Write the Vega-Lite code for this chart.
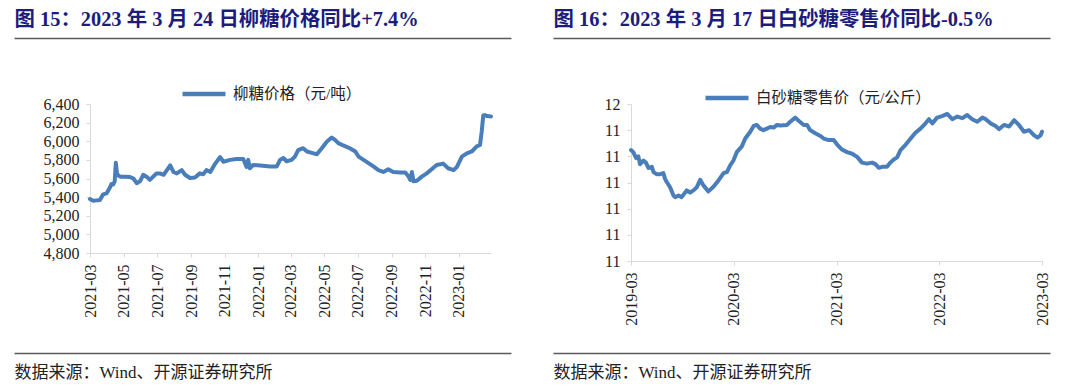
{
  "$schema": "https://vega.github.io/schema/vega-lite/v6.json",
  "autosize": {"type": "pad"},
  "padding": {"left": 14, "top": 9, "right": 30, "bottom": 5},
  "background": "white",
  "config": {
    "view": {"stroke": null},
    "font": "Liberation Serif, Noto Sans CJK SC",
    "axis": {"labelFont": "Liberation Serif", "titleFont": "Liberation Serif, Noto Sans CJK SC"},
    "legend": {"labelFont": "Liberation Serif, Noto Sans CJK SC"}
  },
  "datasets": {
    "liutang": [
      {"d": "2021-03-24", "v": 5380}, {"d": "2021-03-30", "v": 5360}, {"d": "2021-04-05", "v": 5365}, {"d": "2021-04-11", "v": 5370},
      {"d": "2021-04-14", "v": 5400}, {"d": "2021-04-17", "v": 5430}, {"d": "2021-04-23", "v": 5440}, {"d": "2021-04-29", "v": 5500},
      {"d": "2021-05-02", "v": 5540}, {"d": "2021-05-05", "v": 5535}, {"d": "2021-05-08", "v": 5570}, {"d": "2021-05-10", "v": 5770},
      {"d": "2021-05-12", "v": 5660}, {"d": "2021-05-14", "v": 5635}, {"d": "2021-05-18", "v": 5620}, {"d": "2021-05-27", "v": 5620},
      {"d": "2021-06-05", "v": 5615}, {"d": "2021-06-11", "v": 5600}, {"d": "2021-06-17", "v": 5550}, {"d": "2021-06-23", "v": 5570},
      {"d": "2021-06-29", "v": 5640}, {"d": "2021-07-05", "v": 5620}, {"d": "2021-07-11", "v": 5585}, {"d": "2021-07-17", "v": 5620},
      {"d": "2021-07-23", "v": 5655}, {"d": "2021-07-29", "v": 5655}, {"d": "2021-08-05", "v": 5640}, {"d": "2021-08-11", "v": 5690},
      {"d": "2021-08-17", "v": 5740}, {"d": "2021-08-23", "v": 5670}, {"d": "2021-08-29", "v": 5655}, {"d": "2021-09-07", "v": 5690},
      {"d": "2021-09-13", "v": 5640}, {"d": "2021-09-22", "v": 5605}, {"d": "2021-10-01", "v": 5610}, {"d": "2021-10-10", "v": 5655},
      {"d": "2021-10-16", "v": 5645}, {"d": "2021-10-22", "v": 5690}, {"d": "2021-10-29", "v": 5670}, {"d": "2021-11-07", "v": 5760},
      {"d": "2021-11-16", "v": 5830}, {"d": "2021-11-22", "v": 5780}, {"d": "2021-12-04", "v": 5800}, {"d": "2021-12-16", "v": 5810},
      {"d": "2021-12-28", "v": 5810}, {"d": "2022-01-03", "v": 5725}, {"d": "2022-01-06", "v": 5800}, {"d": "2022-01-09", "v": 5710},
      {"d": "2022-01-15", "v": 5745}, {"d": "2022-01-28", "v": 5740}, {"d": "2022-02-15", "v": 5730}, {"d": "2022-02-27", "v": 5730},
      {"d": "2022-03-05", "v": 5800}, {"d": "2022-03-11", "v": 5820}, {"d": "2022-03-17", "v": 5785}, {"d": "2022-03-26", "v": 5800},
      {"d": "2022-04-01", "v": 5835}, {"d": "2022-04-07", "v": 5905}, {"d": "2022-04-16", "v": 5925}, {"d": "2022-04-23", "v": 5890},
      {"d": "2022-05-05", "v": 5870}, {"d": "2022-05-11", "v": 5860}, {"d": "2022-05-20", "v": 5925}, {"d": "2022-05-29", "v": 5995},
      {"d": "2022-06-07", "v": 6040}, {"d": "2022-06-13", "v": 6015}, {"d": "2022-06-19", "v": 5980}, {"d": "2022-06-28", "v": 5955},
      {"d": "2022-07-10", "v": 5925}, {"d": "2022-07-20", "v": 5890}, {"d": "2022-07-26", "v": 5835}, {"d": "2022-08-04", "v": 5800},
      {"d": "2022-08-13", "v": 5765}, {"d": "2022-08-22", "v": 5730}, {"d": "2022-08-31", "v": 5690}, {"d": "2022-09-09", "v": 5670},
      {"d": "2022-09-18", "v": 5700}, {"d": "2022-09-27", "v": 5670}, {"d": "2022-10-10", "v": 5665}, {"d": "2022-10-19", "v": 5665},
      {"d": "2022-10-25", "v": 5620}, {"d": "2022-10-28", "v": 5585}, {"d": "2022-10-31", "v": 5670}, {"d": "2022-11-03", "v": 5570},
      {"d": "2022-11-09", "v": 5575}, {"d": "2022-11-18", "v": 5620}, {"d": "2022-11-27", "v": 5655}, {"d": "2022-12-06", "v": 5700},
      {"d": "2022-12-15", "v": 5745}, {"d": "2022-12-27", "v": 5760}, {"d": "2023-01-05", "v": 5710}, {"d": "2023-01-15", "v": 5690},
      {"d": "2023-01-21", "v": 5725}, {"d": "2023-01-30", "v": 5835}, {"d": "2023-02-08", "v": 5870}, {"d": "2023-02-17", "v": 5890},
      {"d": "2023-02-26", "v": 5945}, {"d": "2023-03-04", "v": 5960}, {"d": "2023-03-07", "v": 6100}, {"d": "2023-03-10", "v": 6280},
      {"d": "2023-03-13", "v": 6280}, {"d": "2023-03-17", "v": 6270}, {"d": "2023-03-24", "v": 6265}
    ],
    "retail": [
      {"d": "2019-03-17", "v": 11.412}, {"d": "2019-03-25", "v": 11.408}, {"d": "2019-04-04", "v": 11.397}, {"d": "2019-04-12", "v": 11.400},
      {"d": "2019-04-18", "v": 11.385}, {"d": "2019-04-30", "v": 11.392}, {"d": "2019-05-09", "v": 11.388}, {"d": "2019-05-18", "v": 11.378},
      {"d": "2019-05-30", "v": 11.380}, {"d": "2019-06-05", "v": 11.370}, {"d": "2019-06-16", "v": 11.366}, {"d": "2019-06-28", "v": 11.366},
      {"d": "2019-07-10", "v": 11.368}, {"d": "2019-07-16", "v": 11.357}, {"d": "2019-07-22", "v": 11.351}, {"d": "2019-08-03", "v": 11.341},
      {"d": "2019-08-15", "v": 11.325}, {"d": "2019-08-21", "v": 11.322}, {"d": "2019-09-02", "v": 11.325}, {"d": "2019-09-13", "v": 11.322},
      {"d": "2019-10-01", "v": 11.335}, {"d": "2019-10-13", "v": 11.331}, {"d": "2019-10-25", "v": 11.335}, {"d": "2019-11-06", "v": 11.341},
      {"d": "2019-11-18", "v": 11.355}, {"d": "2019-11-30", "v": 11.344}, {"d": "2019-12-17", "v": 11.333}, {"d": "2020-01-04", "v": 11.342},
      {"d": "2020-01-22", "v": 11.354}, {"d": "2020-02-09", "v": 11.368}, {"d": "2020-02-21", "v": 11.370}, {"d": "2020-03-04", "v": 11.383},
      {"d": "2020-03-15", "v": 11.392}, {"d": "2020-03-27", "v": 11.408}, {"d": "2020-04-14", "v": 11.419}, {"d": "2020-04-26", "v": 11.434},
      {"d": "2020-05-14", "v": 11.447}, {"d": "2020-05-26", "v": 11.458}, {"d": "2020-06-06", "v": 11.460}, {"d": "2020-06-18", "v": 11.453},
      {"d": "2020-06-30", "v": 11.450}, {"d": "2020-07-12", "v": 11.453}, {"d": "2020-07-24", "v": 11.456}, {"d": "2020-08-05", "v": 11.455},
      {"d": "2020-08-17", "v": 11.460}, {"d": "2020-08-29", "v": 11.459}, {"d": "2020-09-21", "v": 11.460}, {"d": "2020-10-03", "v": 11.466},
      {"d": "2020-10-21", "v": 11.474}, {"d": "2020-11-02", "v": 11.468}, {"d": "2020-11-20", "v": 11.460}, {"d": "2020-12-02", "v": 11.460},
      {"d": "2020-12-13", "v": 11.450}, {"d": "2020-12-31", "v": 11.444}, {"d": "2021-01-18", "v": 11.439}, {"d": "2021-01-30", "v": 11.434},
      {"d": "2021-02-17", "v": 11.431}, {"d": "2021-03-07", "v": 11.431}, {"d": "2021-03-18", "v": 11.423}, {"d": "2021-04-05", "v": 11.413},
      {"d": "2021-04-23", "v": 11.408}, {"d": "2021-05-11", "v": 11.405}, {"d": "2021-05-29", "v": 11.399}, {"d": "2021-06-15", "v": 11.388},
      {"d": "2021-07-03", "v": 11.386}, {"d": "2021-07-21", "v": 11.388}, {"d": "2021-08-02", "v": 11.385}, {"d": "2021-08-14", "v": 11.378},
      {"d": "2021-08-26", "v": 11.380}, {"d": "2021-09-12", "v": 11.380}, {"d": "2021-09-24", "v": 11.388}, {"d": "2021-10-06", "v": 11.394},
      {"d": "2021-10-18", "v": 11.398}, {"d": "2021-10-30", "v": 11.412}, {"d": "2021-11-17", "v": 11.422}, {"d": "2021-12-05", "v": 11.434},
      {"d": "2021-12-22", "v": 11.445}, {"d": "2022-01-09", "v": 11.453}, {"d": "2022-01-27", "v": 11.463}, {"d": "2022-02-08", "v": 11.471},
      {"d": "2022-02-20", "v": 11.463}, {"d": "2022-03-09", "v": 11.474}, {"d": "2022-03-27", "v": 11.477}, {"d": "2022-04-14", "v": 11.481},
      {"d": "2022-05-02", "v": 11.471}, {"d": "2022-05-20", "v": 11.476}, {"d": "2022-06-07", "v": 11.473}, {"d": "2022-06-24", "v": 11.479},
      {"d": "2022-07-12", "v": 11.471}, {"d": "2022-07-30", "v": 11.466}, {"d": "2022-08-17", "v": 11.474}, {"d": "2022-08-29", "v": 11.471},
      {"d": "2022-09-15", "v": 11.463}, {"d": "2022-10-03", "v": 11.458}, {"d": "2022-10-15", "v": 11.452}, {"d": "2022-11-02", "v": 11.460},
      {"d": "2022-11-20", "v": 11.457}, {"d": "2022-12-08", "v": 11.469}, {"d": "2022-12-25", "v": 11.460}, {"d": "2023-01-12", "v": 11.447},
      {"d": "2023-01-30", "v": 11.450}, {"d": "2023-02-17", "v": 11.440}, {"d": "2023-03-01", "v": 11.436}, {"d": "2023-03-12", "v": 11.440},
      {"d": "2023-03-17", "v": 11.447}
    ]
  },
  "spacing": 42,
  "bounds": "flush",
  "resolve": {"scale": {"color": "independent"}, "legend": {"color": "independent"}},
  "hconcat": [
    {
      "width": 497,
      "height": 315,
      "data": {"name": "liutang"},
      "resolve": {"scale": {"x": "independent"}, "axis": {"x": "independent"}},
      "layer": [
        {
          "mark": {"type": "rule", "opacity": 0},
          "encoding": {
            "x": {"field": "d", "type": "temporal", "scale": {"type": "utc"},
              "axis": {"orient": "top", "labels": false, "ticks": false, "grid": false, "domain": true,
                "domainColor": "#5a5a5a", "domainWidth": 1.5,
                "title": "图 15：2023 年 3 月 24 日柳糖价格同比+7.4%", "titleX": 0, "titleY": -19,
                "titleAlign": "left", "titleAnchor": "start", "titleBaseline": "middle", "titleAngle": 0,
                "titleFont": "Liberation Serif, Noto Sans CJK SC",
                "titleFontSize": 20.4, "titleFontWeight": "bold", "titleColor": "#1c1c7c"}}
          }
        },
        {
          "mark": {"type": "rule", "opacity": 0},
          "encoding": {
            "x": {"field": "d", "type": "temporal", "scale": {"type": "utc"},
              "axis": {"orient": "bottom", "labels": false, "ticks": false, "grid": false, "domain": true,
                "domainColor": "#5a5a5a", "domainWidth": 1.5,
                "title": "数据来源：Wind、开源证券研究所", "titleX": 0, "titleY": 19,
                "titleAlign": "left", "titleAnchor": "start", "titleBaseline": "middle", "titleAngle": 0,
                "titleFont": "Liberation Serif, Noto Sans CJK SC",
                "titleFontSize": 17, "titleFontWeight": "normal", "titleColor": "#222222"}}
          }
        },
        {
          "mark": {"type": "line", "strokeWidth": 4, "strokeJoin": "round", "strokeCap": "round"},
          "encoding": {
            "x": {"field": "d", "type": "temporal",
              "scale": {"type": "utc", "domain": [{"year": 2021, "month": 3, "date": 24, "utc": true}, {"year": 2023, "month": 3, "date": 24, "utc": true}], "range": [76, 477]},
              "axis": {"orient": "bottom", "offset": -100, "title": null, "grid": false, "format": "%Y-%m", "labelAngle": -90,
                "values": [
                  {"year": 2021, "month": 3, "date": 24, "utc": true}, {"year": 2021, "month": 5, "date": 24, "utc": true},
                  {"year": 2021, "month": 7, "date": 24, "utc": true}, {"year": 2021, "month": 9, "date": 24, "utc": true},
                  {"year": 2021, "month": 11, "date": 24, "utc": true}, {"year": 2022, "month": 1, "date": 24, "utc": true},
                  {"year": 2022, "month": 3, "date": 24, "utc": true}, {"year": 2022, "month": 5, "date": 24, "utc": true},
                  {"year": 2022, "month": 7, "date": 24, "utc": true}, {"year": 2022, "month": 9, "date": 24, "utc": true},
                  {"year": 2022, "month": 11, "date": 24, "utc": true}, {"year": 2023, "month": 1, "date": 24, "utc": true}
                ],
                "domainColor": "#d9d9d9", "tickColor": "#d9d9d9", "tickSize": 4, "labelPadding": 7,
                "labelFont": "Liberation Serif",
                "labelFontSize": 16, "labelColor": "#222222", "labelOverlap": false, "labelFlush": false}
            },
            "y": {"field": "v", "type": "quantitative",
              "scale": {"domain": [4800, 6400], "range": [215, 66], "zero": false, "nice": false},
              "axis": {"orient": "left", "offset": -76, "title": null, "grid": false, "format": ",d",
                "values": [4800, 5000, 5200, 5400, 5600, 5800, 6000, 6200, 6400],
                "domainColor": "#d9d9d9", "tickColor": "#d9d9d9", "tickSize": 4, "labelPadding": 7,
                "labelFont": "Liberation Serif",
                "labelFontSize": 16, "labelColor": "#222222", "labelOverlap": false, "labelFlush": false}
            },
            "color": {"datum": "柳糖价格（元/吨）", "type": "nominal",
              "scale": {"range": ["#4a7ebb"]},
              "legend": {"orient": "none", "legendX": 166, "legendY": 32, "title": null, "direction": "horizontal",
                "symbolType": "stroke", "symbolSize": 1849, "symbolStrokeWidth": 4.5, "labelFontSize": 15.5,
                "labelFont": "Liberation Serif, Noto Sans CJK SC", "labelLimit": 400,
                "labelColor": "#222222", "labelOffset": 5, "padding": 0}}
          }
        }
      ]
    },
    {
      "width": 497,
      "height": 315,
      "data": {"name": "retail"},
      "resolve": {"scale": {"x": "independent"}, "axis": {"x": "independent"}},
      "layer": [
        {
          "mark": {"type": "rule", "opacity": 0},
          "encoding": {
            "x": {"field": "d", "type": "temporal", "scale": {"type": "utc"},
              "axis": {"orient": "top", "labels": false, "ticks": false, "grid": false, "domain": true,
                "domainColor": "#5a5a5a", "domainWidth": 1.5,
                "title": "图 16：2023 年 3 月 17 日白砂糖零售价同比-0.5%", "titleX": 0, "titleY": -19,
                "titleAlign": "left", "titleAnchor": "start", "titleBaseline": "middle", "titleAngle": 0,
                "titleFont": "Liberation Serif, Noto Sans CJK SC",
                "titleFontSize": 20.4, "titleFontWeight": "bold", "titleColor": "#1c1c7c"}}
          }
        },
        {
          "mark": {"type": "rule", "opacity": 0},
          "encoding": {
            "x": {"field": "d", "type": "temporal", "scale": {"type": "utc"},
              "axis": {"orient": "bottom", "labels": false, "ticks": false, "grid": false, "domain": true,
                "domainColor": "#5a5a5a", "domainWidth": 1.5,
                "title": "数据来源：Wind、开源证券研究所", "titleX": 0, "titleY": 19,
                "titleAlign": "left", "titleAnchor": "start", "titleBaseline": "middle", "titleAngle": 0,
                "titleFont": "Liberation Serif, Noto Sans CJK SC",
                "titleFontSize": 17, "titleFontWeight": "normal", "titleColor": "#222222"}}
          }
        },
        {
          "mark": {"type": "line", "strokeWidth": 4, "strokeJoin": "round", "strokeCap": "round"},
          "encoding": {
            "x": {"field": "d", "type": "temporal",
              "scale": {"type": "utc", "domain": [{"year": 2019, "month": 3, "date": 17, "utc": true}, {"year": 2023, "month": 3, "date": 17, "utc": true}], "range": [78, 489]},
              "axis": {"orient": "bottom", "offset": -92, "title": null, "grid": false, "format": "%Y-%m", "labelAngle": -90,
                "values": [
                  {"year": 2019, "month": 3, "date": 17, "utc": true}, {"year": 2020, "month": 3, "date": 17, "utc": true},
                  {"year": 2021, "month": 3, "date": 17, "utc": true}, {"year": 2022, "month": 3, "date": 17, "utc": true},
                  {"year": 2023, "month": 3, "date": 17, "utc": true}
                ],
                "domainColor": "#d9d9d9", "tickColor": "#d9d9d9", "tickSize": 4, "labelPadding": 7,
                "labelFont": "Liberation Serif",
                "labelFontSize": 16, "labelColor": "#222222", "labelOverlap": false, "labelFlush": false}
            },
            "y": {"field": "v", "type": "quantitative",
              "scale": {"domain": [11.2, 11.5], "range": [223, 66], "zero": false, "nice": false},
              "axis": {"orient": "left", "offset": -78, "title": null, "grid": false, "format": ".0f",
                "values": [11.2, 11.25, 11.3, 11.35, 11.4, 11.45, 11.5],
                "domainColor": "#d9d9d9", "tickColor": "#d9d9d9", "tickSize": 4, "labelPadding": 7,
                "labelFont": "Liberation Serif",
                "labelFontSize": 16, "labelColor": "#222222", "labelOverlap": false, "labelFlush": false}
            },
            "color": {"datum": "白砂糖零售价（元/公斤）", "type": "nominal",
              "scale": {"range": ["#4a7ebb"]},
              "legend": {"orient": "none", "legendX": 150, "legendY": 36, "title": null, "direction": "horizontal",
                "symbolType": "stroke", "symbolSize": 1849, "symbolStrokeWidth": 4.5, "labelFontSize": 15.5,
                "labelFont": "Liberation Serif, Noto Sans CJK SC", "labelLimit": 400,
                "labelColor": "#222222", "labelOffset": 5, "padding": 0}}
          }
        }
      ]
    }
  ]
}
